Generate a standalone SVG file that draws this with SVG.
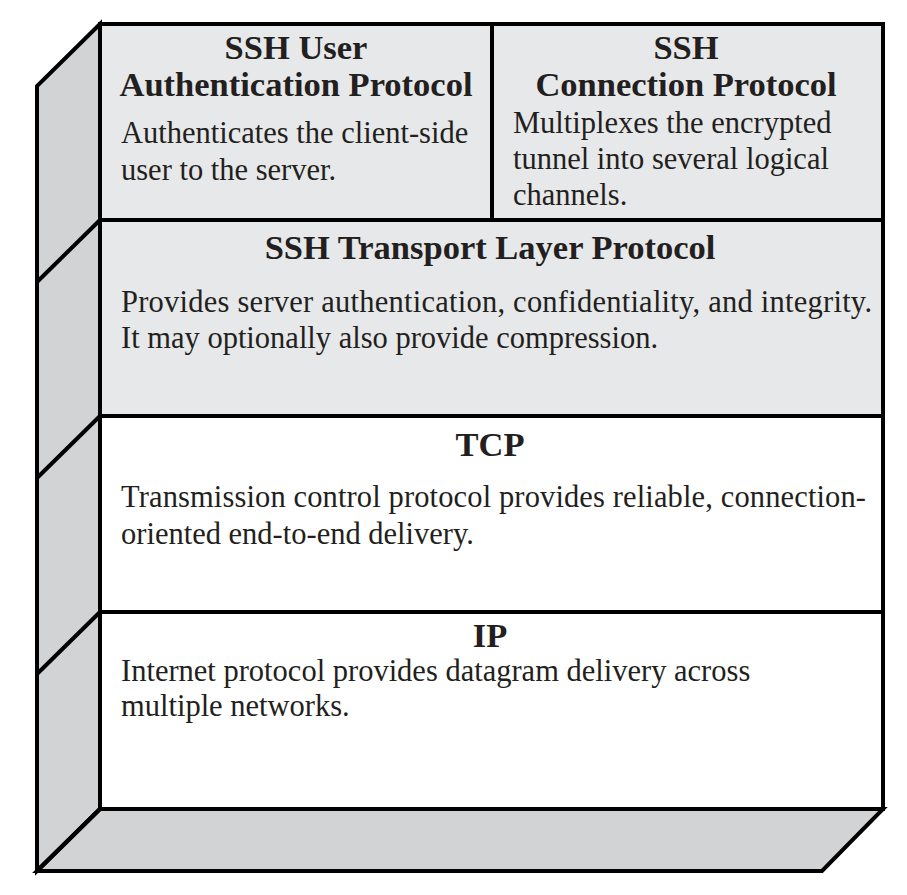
<svg xmlns="http://www.w3.org/2000/svg" width="907" height="895" viewBox="0 0 907 895">
<style>
.ln{stroke:#000;stroke-width:4;stroke-linejoin:miter;}
.side{fill:#d1d3d4;}
.lt{fill:#e7e8e9;}
.wh{fill:#ffffff;}
.t{font-family:"Liberation Serif","Times New Roman",serif;font-weight:bold;font-size:34.5px;fill:#231f20;text-anchor:middle;}
.b{font-family:"Liberation Serif","Times New Roman",serif;font-size:30.5px;fill:#231f20;}
</style>
<rect width="907" height="895" fill="#fff"/>
<g id="side-left">
<polygon class="side ln" points="100,24 37,86 37,871 100,809"/>
</g>
<g id="side-bottom">
<polygon class="side ln" points="100,809 883,809 822,871 37,871"/>
</g>
<g id="ssh-user-auth">
<rect class="lt ln" x="100" y="24" width="392" height="196"/>
<text class="t" x="296" y="59">SSH User</text>
<text class="t" x="296" y="96">Authentication Protocol</text>
<text class="b" x="121" y="143">Authenticates the client-side</text>
<text class="b" x="121" y="180">user to the server.</text>
</g>
<g id="ssh-connection">
<rect class="lt ln" x="492" y="24" width="391" height="196"/>
<text class="t" x="686" y="59">SSH</text>
<text class="t" x="686" y="96">Connection Protocol</text>
<text class="b" x="513" y="133">Multiplexes the encrypted</text>
<text class="b" x="513" y="169">tunnel into several logical</text>
<text class="b" x="513" y="205">channels.</text>
</g>
<g id="ssh-transport">
<rect class="lt ln" x="100" y="220" width="783" height="196"/>
<text class="t" x="490" y="259">SSH Transport Layer Protocol</text>
<text class="b" x="121" y="312" textLength="751" lengthAdjust="spacing">Provides server authentication, confidentiality, and integrity.</text>
<text class="b" x="121" y="348">It may optionally also provide compression.</text>
</g>
<g id="tcp">
<rect class="wh ln" x="100" y="416" width="783" height="196"/>
<text class="t" x="490" y="456">TCP</text>
<text class="b" x="121" y="507" textLength="745" lengthAdjust="spacing">Transmission control protocol provides reliable, connection-</text>
<text class="b" x="121" y="544">oriented end-to-end delivery.</text>
</g>
<g id="ip">
<rect class="wh ln" x="100" y="612" width="783" height="197"/>
<text class="t" x="490" y="647">IP</text>
<text class="b" x="121" y="681">Internet protocol provides datagram delivery across</text>
<text class="b" x="121" y="716">multiple networks.</text>
</g>
<g id="connectors">
<line class="ln" x1="100" y1="220" x2="37" y2="282"/>
<line class="ln" x1="100" y1="416" x2="37" y2="478"/>
<line class="ln" x1="100" y1="612" x2="37" y2="674"/>
<line class="ln" x1="100" y1="809" x2="37" y2="871"/>
</g>
</svg>
